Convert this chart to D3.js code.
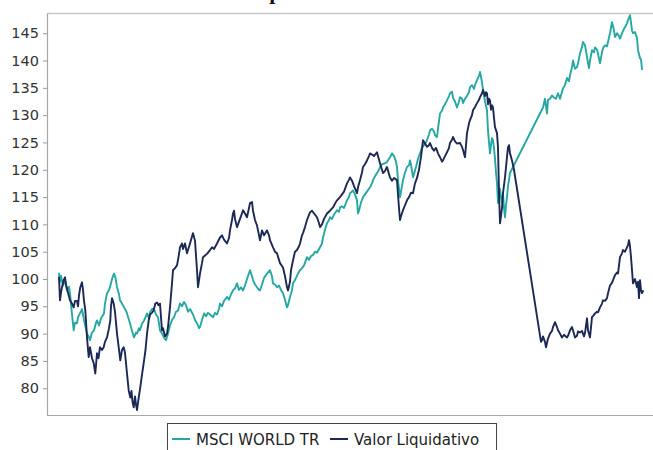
<!DOCTYPE html>
<html><head><meta charset="utf-8">
<script src="https://cdn.jsdelivr.net/npm/d3@7"></script>
<style>html,body{margin:0;padding:0;background:#fff;}svg{display:block;}</style>
</head><body>
<svg id="c" width="653" height="450"></svg>
<script>
// period index / value
const msci = [[12,101.0],[13,99.5],[14,100.6],[16,98.8],[18,99.8],[20,97.9],[22,98.6],[23,97.4],[25,93.5],[26.7,90.6],[28,92.0],[30,91.9],[31,93.0],[33,93.7],[35,94.5],[37,92.5],[40,90.0],[41.5,89.5],[43,88.8],[45,90.2],[47,90.6],[49,92.0],[50,92.4],[52,91.5],[54,92.8],[57,93.7],[58,95.5],[60,97.4],[62,98.0],[63,98.5],[65,100.0],[67,101.0],[68.5,100.2],[70,98.5],[72,97.2],[73,96.1],[75,95.5],[77,94.8],[79,94.2],[80,93.7],[82,92.5],[83,91.9],[85,90.5],[87,89.3],[89,90.2],[90,90.0],[92,91.0],[93,90.6],[95,91.8],[97,92.4],[99,93.2],[100,93.7],[102,92.8],[103,93.9],[105,94.5],[107,94.5],[109,93.5],[111,93.0],[113,90.6],[115,90.0],[117,89.3],[119,88.8],[121,90.0],[123,91.5],[125,92.5],[127,93.0],[129,94.0],[131,94.2],[133,95.5],[135,95.0],[137,95.8],[139,95.2],[141,94.0],[143,94.5],[146,93.5],[148,92.5],[150,91.9],[152,91.0],[153,91.2],[155,92.5],[157,93.7],[159,93.2],[161,93.8],[163,93.5],[166,93.0],[168,93.8],[170,93.5],[172,94.5],[173,95.5],[175,95.0],[177,96.0],[180,96.7],[182,96.2],[184,97.2],[186,97.9],[188,98.3],[190,99.2],[192,98.0],[194,98.5],[196,97.9],[198,98.8],[200,100.0],[203,101.6],[205,100.5],[206,99.8],[208,99.0],[210,98.5],[212,98.0],[213,97.9],[215,99.0],[217,100.2],[220,101.0],[223,101.6],[225,100.5],[226,99.2],[228,99.0],[230,98.5],[232,98.8],[234,98.0],[236,97.4],[238,96.2],[240,94.8],[241,95.2],[243,96.7],[245,98.0],[246,99.2],[248,99.8],[251,101.0],[253,101.6],[255,102.0],[257,102.5],[260,104.0],[262,103.5],[264,104.2],[266,104.4],[268,105.0],[270,104.8],[273,105.8],[275,106.5],[276,107.6],[278,109.0],[280,110.2],[282,110.8],[283,111.3],[285,111.0],[287,111.8],[290,112.6],[292,112.3],[293,113.1],[295,113.3],[297,113.0],[300,114.4],[302,115.0],[303,115.7],[305,116.0],[306,116.2],[308,115.5],[310,114.4],[311,112.0],[312,112.5],[314,114.0],[316,115.0],[318,115.5],[320,116.0],[323,116.8],[325,117.5],[326,118.1],[328,118.8],[330,119.4],[332,120.0],[333,120.5],[335,121.0],[338,121.2],[340,121.4],[342,122.0],[343,122.3],[345,123.0],[347,122.5],[349,121.5],[350,120.5],[351,118.1],[352,116.5],[353,115.0],[354,116.0],[356,118.1],[358,119.5],[360,120.5],[362,120.8],[363,121.7],[364,121.0],[366,118.6],[367,119.2],[369,120.5],[371,122.0],[373,123.0],[375,124.0],[377,124.5],[379,125.0],[380,125.4],[382,126.5],[383,127.2],[385,127.5],[387,127.0],[388,126.3],[390,126.0],[391,127.5],[393,130.3],[395,130.8],[396,131.4],[398,132.0],[400,132.7],[402,133.5],[403,134.0],[405,134.3],[406,133.2],[408,132.5],[410,131.4],[412,132.5],[413,133.3],[415,133.0],[416,132.2],[418,133.0],[420,133.5],[422,134.2],[423,135.1],[425,135.5],[427,134.8],[428,135.5],[430,136.4],[432,137.2],[433,137.9],[434,137.0],[435,136.0],[436,134.6],[438,132.5],[440,130.9],[441,127.2],[442,125.0],[443,123.0],[444,124.5],[445,125.8],[446,125.4],[447,124.0],[448,122.0],[449,119.5],[450,117.5],[451,113.9],[452,114.5],[453,116.5],[454,115.0],[455,114.0],[456,115.7],[457,113.0],[458,111.3],[459,113.5],[460,115.0],[461,117.0],[463,119.4],[496,131.4],[498,133.0],[500,130.3],[501,132.8],[503,133.0],[505,133.6],[507,133.2],[509,133.0],[511,134.0],[513,133.0],[516,134.9],[518,135.5],[520,136.8],[522,136.2],[523,137.3],[525,138.8],[526,140.0],[528,138.5],[530,138.8],[531,139.5],[533,141.3],[535,142.5],[536,143.4],[538,142.8],[540,140.7],[541,139.5],[542,138.6],[543,140.0],[545,141.9],[547,141.5],[548,142.4],[550,142.0],[551,141.2],[553,139.5],[555,141.5],[556,142.3],[558,142.8],[560,142.6],[561,143.4],[562,144.2],[563,145.0],[564,146.0],[565,147.0],[566,146.3],[567,145.5],[568,144.3],[570,145.0],[572,144.5],[573,144.0],[575,145.0],[577,145.8],[578,146.1],[580,146.8],[581,147.4],[583,148.3],[584,147.0],[585,145.5],[586,145.0],[588,145.2],[590,144.1],[591,141.9],[593,140.4],[594,140.2],[595,138.4]];

const vl = [[12,100.3],[13,96.1],[14,97.5],[15,98.5],[16.7,99.8],[18,100.3],[19,99.0],[21,97.5],[23,96.1],[25,95.5],[26.7,94.8],[28,96.0],[30,96.0],[31,95.0],[32,97.0],[33.3,98.5],[35,99.4],[36,98.0],[37,96.0],[38.3,94.3],[40,89.3],[41.7,85.7],[43,87.5],[44,86.5],[45,85.5],[46.7,84.6],[48.3,82.7],[50,86.4],[51.5,85.5],[53,87.5],[55,87.0],[56.7,87.5],[58,88.5],[60,89.3],[62,91.0],[63.3,92.4],[64,95.0],[65,96.5],[66.7,95.5],[68,94.0],[70,90.0],[71.5,87.8],[73.3,85.1],[75,87.0],[76.7,87.5],[78,86.5],[80,82.7],[81.7,79.6],[83.3,78.3],[84.5,79.5],[85.5,77.5],[86.7,76.5],[88,78.5],[89,77.0],[90,76.0],[91.5,78.0],[93.3,80.2],[95,82.5],[96.7,84.6],[98.5,87.0],[100,90.0],[101.7,92.4],[103,93.5],[105,93.8],[106.7,94.3],[108.3,95.5],[110,95.7],[111.5,95.2],[113,95.5],[114,93.0],[115,90.6],[116,91.0],[118,89.5],[120,90.0],[121,91.2],[123,94.8],[125,99.2],[126,101.6],[128,102.0],[130,102.5],[131.5,104.0],[133,105.8],[135,106.5],[136,105.5],[138,106.5],[140,104.7],[143,106.5],[146,108.4],[148,107.0],[150,101.6],[151,98.5],[153,101.0],[155,102.9],[156,104.0],[158,104.3],[160,104.6],[163,105.3],[165,105.8],[167,105.5],[170,106.5],[173,107.6],[175,108.0],[177,107.2],[180,106.5],[182,107.5],[183,108.9],[185,110.8],[186,112.0],[187,112.5],[188,111.0],[190,109.5],[192,110.5],[194,111.5],[196,112.6],[198,112.0],[200,111.3],[202,113.0],[203,113.9],[205,114.1],[206,112.5],[208,110.8],[210,109.8],[211,108.9],[213,107.1],[215,108.9],[217,108.0],[220,108.9],[222,108.0],[223,107.1],[226,105.8],[228,105.0],[230,104.7],[232,103.5],[233,102.9],[236,102.1],[238,100.5],[240,98.5],[241,97.9],[243,99.5],[244,101.6],[246,103.4],[248,105.0],[250,105.3],[252,106.0],[253,106.5],[255,108.0],[256,108.4],[258,109.5],[260,110.8],[263,112.2],[265,112.5],[267,112.0],[270,111.3],[272,110.2],[273,109.5],[275,110.0],[277,111.0],[280,112.0],[283,112.5],[286,113.1],[288,113.8],[290,114.4],[293,115.0],[295,115.5],[297,116.0],[300,117.5],[302,118.2],[303,118.6],[305,118.0],[307,117.0],[310,115.7],[311,116.8],[313,118.1],[315,119.5],[316,120.5],[318,121.0],[320,121.7],[322,122.5],[323,123.0],[325,122.8],[327,122.5],[330,123.2],[331,122.5],[333,121.2],[335,120.0],[336,119.4],[338,119.8],[340,120.5],[342,119.2],[343,118.6],[345,118.0],[347,118.5],[350,118.1],[351,115.5],[352,113.0],[353,110.8],[354,111.5],[356,112.6],[358,113.5],[360,114.4],[362,115.0],[364,115.8],[366,115.7],[368,117.5],[370,118.5],[372,120.0],[373,121.2],[374,122.3],[376,125.4],[378,124.8],[380,124.2],[382,124.5],[383,124.9],[385,124.0],[387,123.5],[389,124.0],[391,123.0],[393,122.3],[395,121.5],[396,121.7],[398,122.5],[400,123.2],[402,124.0],[403,124.9],[405,125.5],[406,126.0],[408,125.2],[410,124.8],[413,124.9],[415,124.2],[416,123.6],[418,122.3],[419,124.5],[420,126.7],[422,128.5],[423,129.1],[425,130.0],[426,130.9],[428,131.5],[430,132.2],[432,132.8],[433,133.3],[435,134.0],[436,134.6],[438,133.5],[439,134.2],[440,134.0],[441,132.0],[442,133.0],[443,132.7],[444,131.0],[445,131.8],[446,131.4],[447,129.5],[448,127.8],[450,126.7],[451,124.1],[451.5,120.0],[452,115.7],[453,110.2],[454,111.5],[455,113.0],[456,115.7],[458,118.6],[460,122.3],[461,124.1],[462,124.5],[463,123.0],[465,121.7],[467,120.0],[494,88.5],[495,88.8],[496,89.5],[498,88.5],[499,87.5],[501,89.1],[503,90.0],[505,90.5],[506,91.2],[508,92.1],[510,91.2],[511,90.6],[513,90.0],[515,89.3],[517,89.8],[518,89.6],[520,89.3],[521,89.6],[523,90.6],[525,91.2],[526,90.6],[528,89.3],[530,89.6],[531,90.4],[533,90.2],[535,90.5],[537,89.5],[538,90.1],[540,92.8],[541,90.6],[543,89.3],[545,93.0],[546,93.2],[548,93.7],[550,94.0],[551,93.9],[553,94.8],[555,95.5],[556,96.1],[558,96.0],[560,96.5],[561,97.4],[563,98.8],[565,99.3],[566,99.8],[568,100.7],[570,101.2],[571,101.0],[573,104.0],[575,104.7],[576,105.3],[578,105.0],[580,105.8],[581,106.2],[582,107.1],[583,106.0],[584,104.0],[585,101.6],[586,99.2],[588,100.0],[590,98.5],[591,99.5],[592,96.5],[593,99.8],[594,98.0],[595,97.4],[596,97.8]];

const yTicks = [80,85,90,95,100,105,110,115,120,125,130,135,140,145];
const seriesNames = ["MSCI WORLD TR","Valor Liquidativo"];
const seriesColors = ["#25a8a3","#1c2856"];
const titleText = "Comparativa";

const svg = d3.select("#c");
const M = {left:47, top:13, right:653, bottom:415};
const x = d3.scaleLinear().domain([0,606]).range([M.left, M.right]);
const y = d3.scaleLinear().domain([75.1,148.7]).range([M.bottom, M.top]);

// title (mostly cropped above, as in the reference)
svg.append("text").attr("x",224).attr("y",-1)
  .attr("font-family","Liberation Serif").attr("font-weight","bold").attr("font-size",22)
  .attr("fill","#111").text(titleText);

// frame
svg.append("line").attr("x1",M.left).attr("x2",M.right).attr("y1",M.top+0.5).attr("y2",M.top+0.5)
  .attr("stroke","#c8c8c8").attr("stroke-width",1.5);
svg.append("line").attr("x1",M.left).attr("x2",M.right).attr("y1",M.bottom+0.5).attr("y2",M.bottom+0.5)
  .attr("stroke","#a8a8a8").attr("stroke-width",1.2);

const ax = svg.append("g").attr("transform",`translate(${M.left},0)`)
  .call(d3.axisLeft(y).tickValues(yTicks).tickSize(4).tickPadding(4).tickSizeOuter(0));
ax.select(".domain").attr("stroke","#a8a8a8").attr("stroke-width",1.2);
ax.selectAll(".tick line").attr("stroke","#999");
ax.selectAll(".tick text").attr("font-family","DejaVu Sans").attr("font-size",14.5).attr("fill","#333");

const line = d3.line().x(d=>x(d[0])).y(d=>y(d[1]));
[msci, vl].forEach((s,i)=>{
  svg.append("path").datum(s).attr("d",line).attr("fill","none")
    .attr("stroke",seriesColors[i]).attr("stroke-width",1.9)
    .attr("stroke-linejoin","round").attr("stroke-linecap","round");
});

// legend
const lg = svg.append("g");
lg.append("rect").attr("x",167.5).attr("y",423.5).attr("width",329).attr("height",40)
  .attr("fill","#fff").attr("stroke","#444").attr("stroke-width",1);
const lx = [172, 330];
seriesNames.forEach((n,i)=>{
  lg.append("line").attr("x1",lx[i]).attr("x2",lx[i]+18).attr("y1",439).attr("y2",439)
    .attr("stroke",seriesColors[i]).attr("stroke-width",2);
  lg.append("text").attr("x",lx[i]+24).attr("y",445).attr("font-family","DejaVu Sans")
    .attr("font-size",15).attr("fill","#222").text(n);
});
</script>
</body></html>
